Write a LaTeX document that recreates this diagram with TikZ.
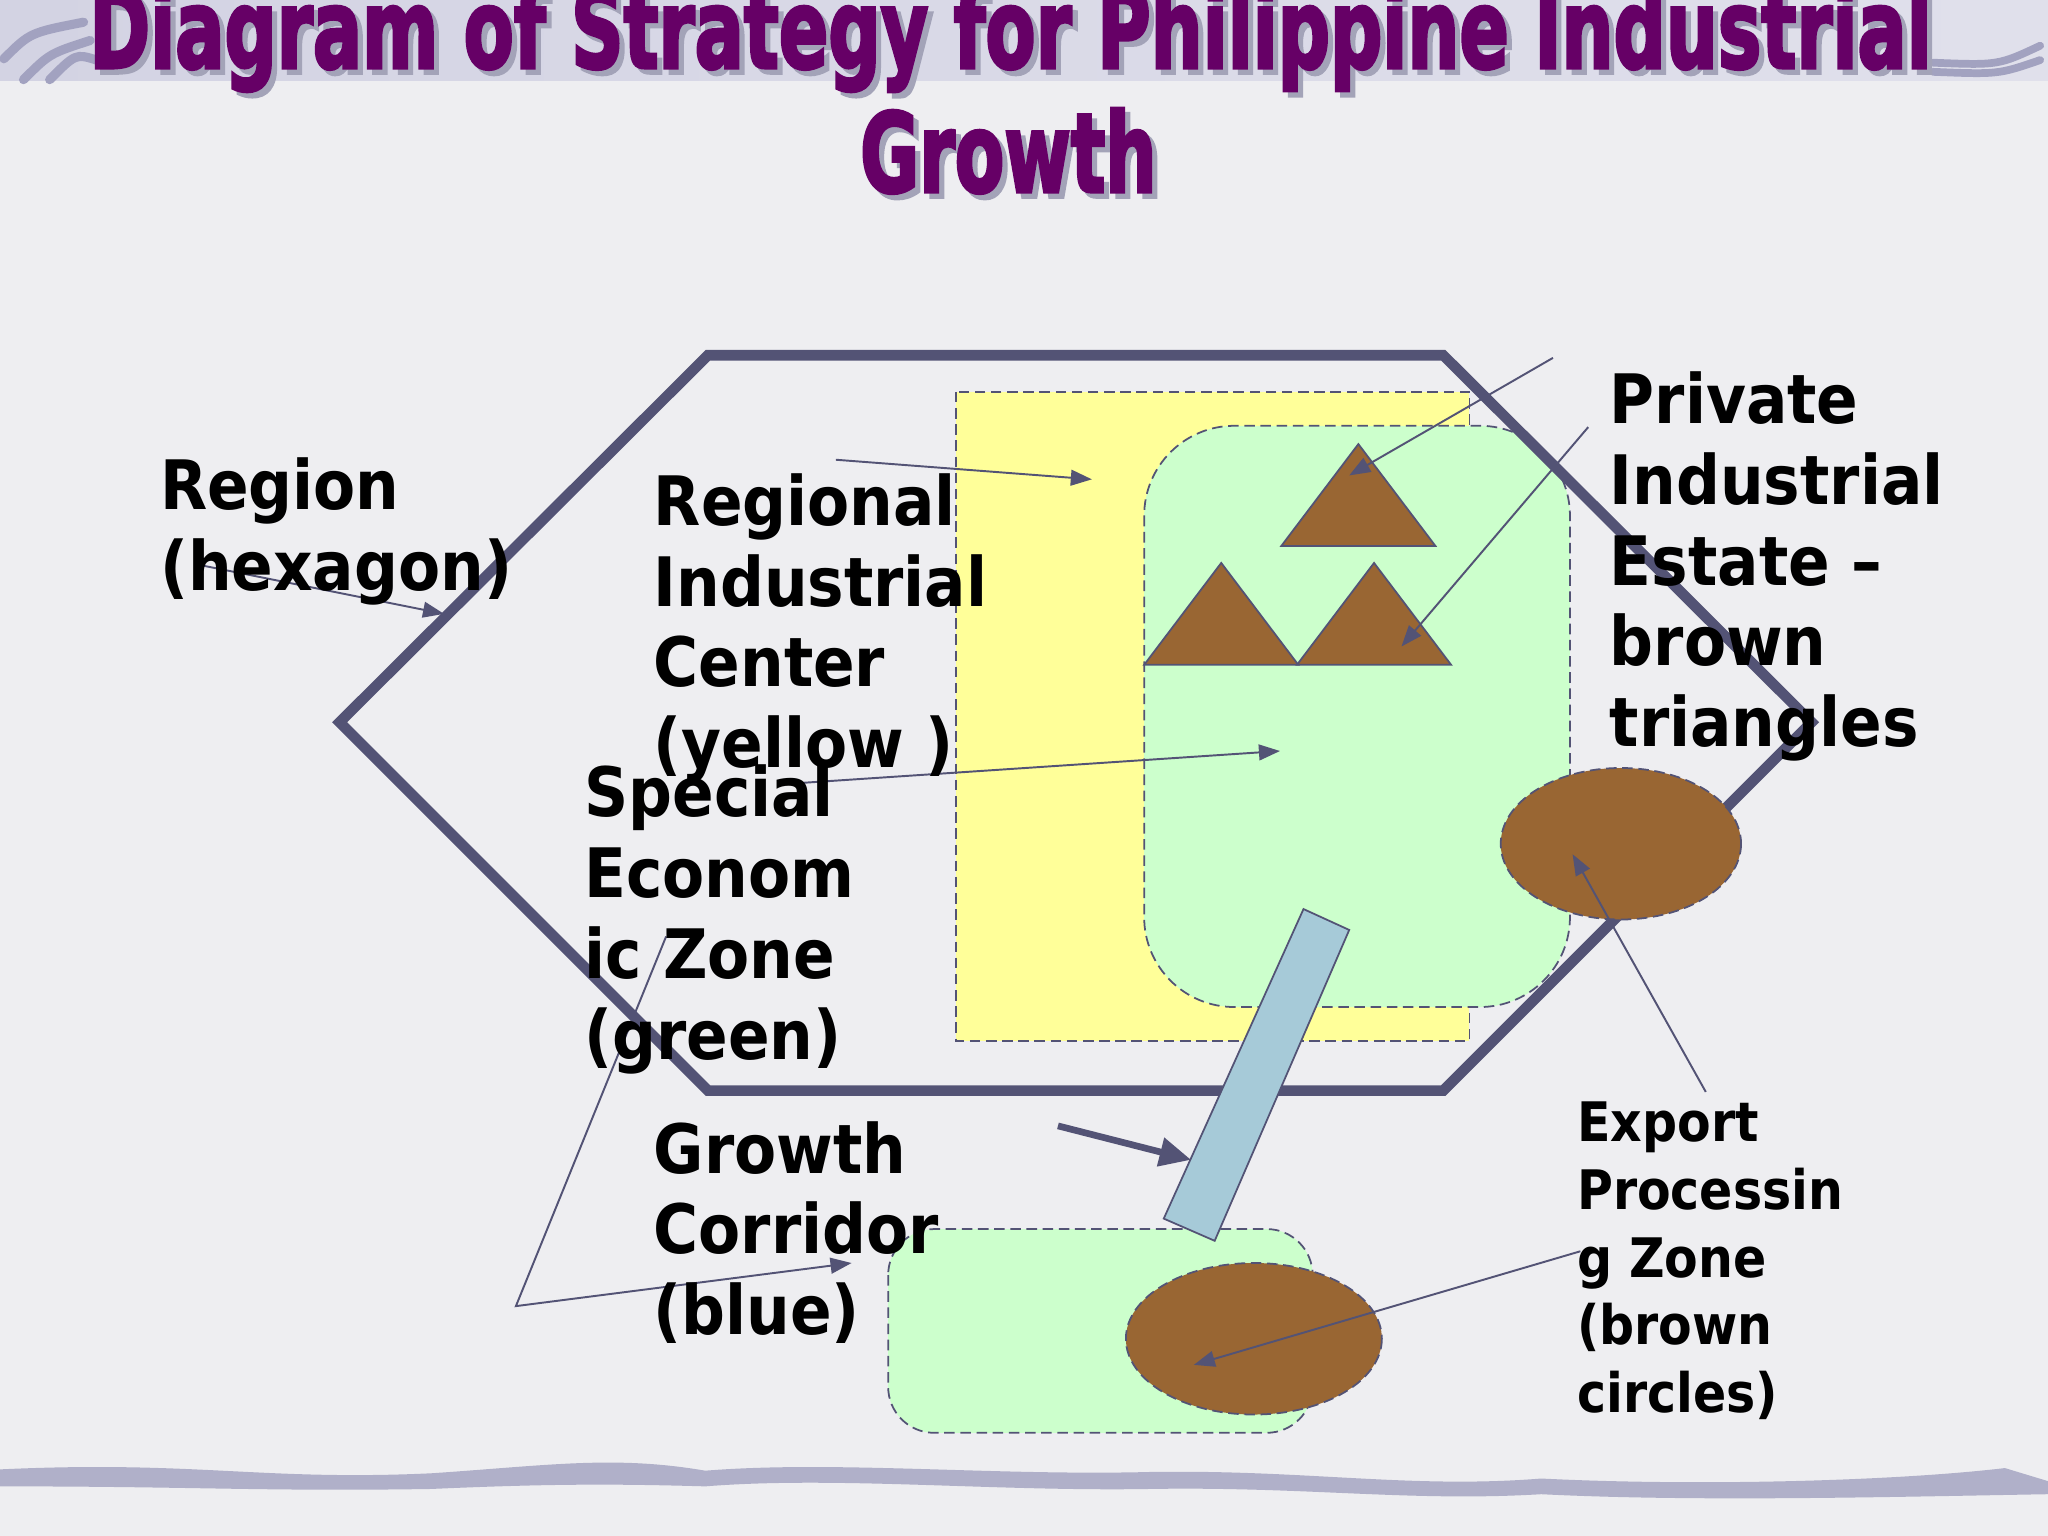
\documentclass[tikz,border=0pt]{standalone}
\usepackage{fontspec}
\usepackage{graphicx}
\usepackage{xcolor}
\newfontfamily\lblfont{DejaVu Sans Condensed}
\newfontfamily\titlefont{DejaVu Sans Condensed}[BoldFeatures={FakeBold=3}]
\usetikzlibrary{arrows.meta, positioning, calc}
\definecolor{bgpaper}{HTML}{EEEEF1}
\definecolor{bandlav}{HTML}{D3D3E3}
\definecolor{swirl}{HTML}{A2A2C0}
\definecolor{titlepurple}{HTML}{660066}
\definecolor{titleshadow}{HTML}{A3A3B8}
\definecolor{hexline}{HTML}{535375}
\definecolor{ricyellow}{HTML}{FFFF99}
\definecolor{sezgreen}{HTML}{CCFFCC}
\definecolor{estbrown}{HTML}{996633}
\definecolor{corrblue}{HTML}{A6CAD8}
\newcommand{\titleline}[2]{\resizebox{#1}{0.836cm}{\titlefont\bfseries #2}}

\begin{document}
\begin{tikzpicture}[x=0.0130612cm, y=-0.0130612cm,
    lbl/.style={font=\lblfont\bfseries\fontsize{19.4}{23}\selectfont, align=left, anchor=north west, inner sep=0pt},
    heading/.style={anchor=base west, inner sep=0pt},
    zone/.style={draw=hexline, line width=0.5pt, dash pattern=on 3pt off 1.6pt},
    pointer/.style={draw=hexline, line width=0.55pt, -{Triangle[length=6pt,width=4.5pt]}}]
\useasboundingbox (0,0) rectangle (1568,1176);
% Paper
\fill[bgpaper] (0,0) rectangle (1568,1176);
\shade[left color=bandlav, right color=bandlav!70!white] (0,0) rectangle (1568,62);
\foreach \sx/\sy/\ex/\ey in {3/45/64/17, 18/61/69/31, 38/61/74/46} {
    \draw[swirl, line width=2.6pt, line cap=round] (\sx,\sy) .. controls (\sx+20,\sy-20) .. (\ex,\ey);
}
\foreach \sy/\ey in {48/35, 55/46} {
    \draw[swirl, line width=2.2pt, line cap=round] (1480,\sy) .. controls (1530,\sy+2) .. (1562,\ey);
}
\fill[swirl!85] (0,1125) .. controls (150,1118) and (200,1134) .. (330,1128)
    .. controls (420,1122) and (470,1114) .. (540,1126) .. controls (640,1118) and (760,1130) .. (880,1127)
    .. controls (1000,1125) and (1080,1140) .. (1180,1132) .. controls (1300,1138) and (1450,1134) .. (1535,1124)
    -- (1568,1134) -- (1568,1144) .. controls (1450,1146) and (1300,1150) .. (1180,1144)
    .. controls (1080,1150) and (1000,1138) .. (880,1140) .. controls (760,1142) and (640,1130) .. (540,1138)
    .. controls (470,1136) and (420,1136) .. (330,1140) .. controls (200,1142) and (150,1138) .. (0,1138) -- cycle;

% Zones
\draw[zone, fill=ricyellow] (732,300) rectangle (1125,797);
\draw[zone, fill=sezgreen, rounded corners=0.9cm] (876,326) rectangle (1202,771);
\foreach \ax/\ay in {1040/340, 935/431, 1052/431} {
    \draw[hexline, line width=0.5pt, fill=estbrown] (\ax,\ay) -- ++(-59,78) -- ++(118,0) -- cycle;
}
% Region
\draw[hexline, line width=3pt, line join=miter] (542,272) -- (1105,272) -- (1387,553) -- (1105,835) -- (542,835) -- (260,553) -- cycle;
\draw[zone, fill=estbrown] (1241,646) ellipse [x radius=92, y radius=58];
\draw[zone, fill=sezgreen, rounded corners=0.46cm] (680,941) rectangle (1005,1097);
\draw[zone, fill=estbrown] (960,1025) ellipse [x radius=98, y radius=58];
\draw[hexline, line width=0.5pt, fill=corrblue] (998,696) -- (1033,712) -- (930,950) -- (891,933) -- cycle;

% Pointers
\coordinate (hexFrom) at (150,432);   \coordinate (hexTo) at (340,470);
\coordinate (ricFrom) at (640,352);   \coordinate (ricTo) at (836,367);
\coordinate (sezFrom) at (605,600);   \coordinate (sezTo) at (980,575);
\coordinate (sezBend) at (395,1000);  \coordinate (sezStart) at (510,717);
\coordinate (sezLowTo) at (652,967);
\coordinate (pieFromA) at (1189,274); \coordinate (pieToA) at (1033,364);
\coordinate (pieFromB) at (1216,327); \coordinate (pieToB) at (1073,495);
\coordinate (epzFromA) at (1306,836); \coordinate (epzToA) at (1204,654);
\coordinate (epzFromB) at (1210,958); \coordinate (epzToB) at (914,1045);
\coordinate (corrFrom) at (810,862);  \coordinate (corrTo) at (912,888);
\draw[pointer] (hexFrom) -- (hexTo);
\draw[pointer] (ricFrom) -- (ricTo);
\draw[pointer] (sezFrom) -- (sezTo);
\draw[pointer] (sezStart) -- (sezBend) -- (sezLowTo);
\draw[pointer] (pieFromA) -- (pieToA);
\draw[pointer] (pieFromB) -- (pieToB);
\draw[pointer] (epzFromA) -- (epzToA);
\draw[pointer] (epzFromB) -- (epzToB);
\draw[hexline, line width=1.9pt, -{Triangle[length=9pt,width=8pt]}] (corrFrom) -- (corrTo);

% Labels
\node[lbl] (regionLbl) at (122,350) {Region\\(hexagon)};
\node[lbl] (ricLbl) at (500,362) {Regional\\Industrial\\Center\\(yellow )};
\node[lbl] (sezLbl) at (447,585) {Special\\Econom\\ic Zone\\(green)};
\node[lbl] (corrLbl) at (500,858) {Growth\\Corridor\\(blue)};
\node[lbl] (pieLbl) at (1232,284) {Private\\Industrial\\Estate –\\brown\\triangles};
\node[lbl, font=\lblfont\bfseries\fontsize{15.5}{19.3}\selectfont] (epzLbl) at (1207,843) {Export\\Processin\\g Zone\\(brown\\circles)};

% Title
\node[heading, text=titleshadow] (titleShadowA) at (72,56) {\titleline{18.42cm}{Diagram of Strategy for Philippine Industrial}};
\node[heading, text=titleshadow] (titleShadowB) at (662,151) {\titleline{2.965cm}{Growth}};
\node[heading, text=titlepurple] (titleA) at (68,52) {\titleline{18.42cm}{Diagram of Strategy for Philippine Industrial}};
\node[heading, text=titlepurple] (titleB) at (658,147) {\titleline{2.965cm}{Growth}};
\end{tikzpicture}
\end{document}
